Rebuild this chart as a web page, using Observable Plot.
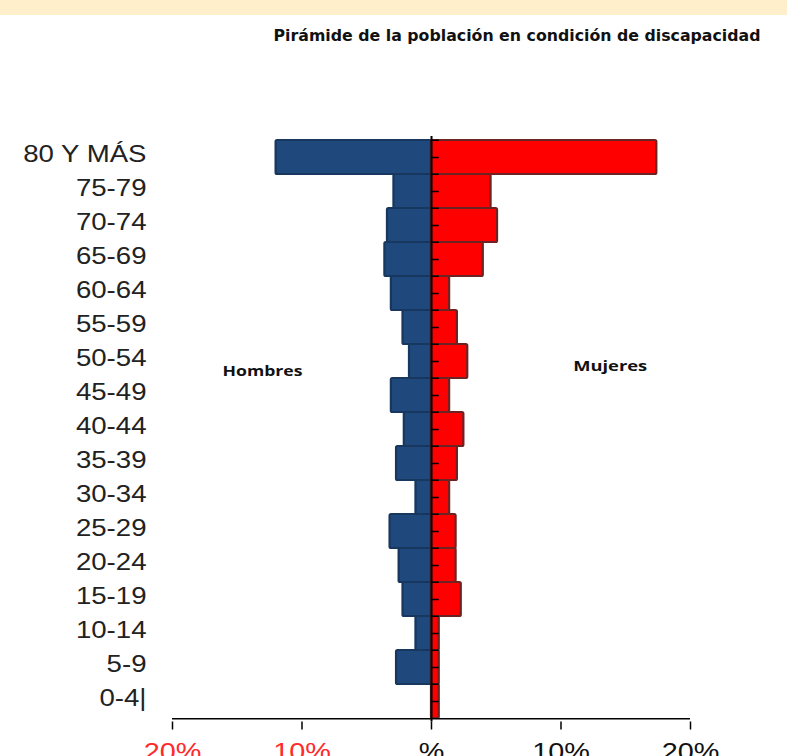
<!DOCTYPE html>
<html>
<head>
<meta charset="utf-8">
<script src="https://cdn.jsdelivr.net/npm/d3@7"></script>
<script src="https://cdn.jsdelivr.net/npm/@observablehq/plot@0.6"></script>
<style>
  html, body { margin: 0; padding: 0; background: #ffffff; }
  #wrap { position: relative; width: 787px; height: 756px; overflow: hidden; background: #fff; }
  #band { position: absolute; left: 0; top: 0; width: 787px; height: 15px; background: #FFF0CB; }
  #chart { position: absolute; left: 0; top: 0; }
</style>
</head>
<body>
<div id="wrap">
  <div id="band"></div>
  <div id="chart"></div>
</div>
<script>
// ---- data ----
const title = "Pirámide de la población en condición de discapacidad";
const ages = ["80 Y MÁS","75-79","70-74","65-69","60-64","55-59","50-54","45-49","40-44","35-39","30-34","25-29","20-24","15-19","10-14","5-9","0-4|"];
const hombres = [12.0, 2.9, 3.4, 3.6, 3.1, 2.2, 1.7, 3.1, 2.1, 2.7, 1.2, 3.2, 2.5, 2.2, 1.2, 2.7, 0.0];
const mujeres = [17.4, 4.6, 5.1, 4.0, 1.4, 2.0, 2.8, 1.4, 2.5, 2.0, 1.4, 1.9, 1.9, 2.3, 0.6, 0.6, 0.6];
const seriesNames = ["Hombres", "Mujeres"];
const xTickValues = [-20, -10, 0, 10, 20];
const xTickLabels = ["20%", "10%", "%", "10%", "20%"];

// ---- tables built from arrays ----
const menRows = ages.map((a, i) => ({age: a, value: -hombres[i]}));
const womenRows = ages.map((a, i) => ({age: a, value: mujeres[i]}));
const labelOf = new Map(xTickValues.map((v, i) => [v, xTickLabels[i]]));

// ---- layout ----
const W = 787, H = 756, mTop = 136, mBottom = 34.5, mLeft = 172, mRight = 97;
const step = (H - mTop - mBottom) / ages.length;
const stubLen = 0.6; // in % units
const labelSize = 23;

const plot = Plot.plot({
  width: W,
  height: H,
  marginTop: mTop,
  marginBottom: mBottom,
  marginLeft: mLeft,
  marginRight: mRight,
  style: {fontFamily: "Liberation Sans, Arial, sans-serif", background: "transparent", overflow: "visible"},
  x: {domain: [-20, 20], axis: null},
  y: {domain: ages, padding: 0, axis: null},
  marks: [
    Plot.barX(menRows, {x1: 0, x2: "value", y: "age", fill: "#1F487C", stroke: "#17375E", strokeWidth: 2.2, rx: 1.5}),
    Plot.barX(womenRows, {x1: 0, x2: "value", y: "age", fill: "#FF0000", stroke: "#6E2323", strokeWidth: 2.2, rx: 1.5}),
    Plot.ruleX([0], {stroke: "#000", strokeWidth: 2}),
    Plot.ruleY(ages, {y: d => d, x1: 0, x2: stubLen, stroke: "#000", strokeWidth: 1.5}),
    Plot.ruleY(ages, {y: d => d, x1: 0, x2: stubLen, stroke: "#000", strokeWidth: 1.5, dy: -step / 2}),
    Plot.ruleY([ages[ages.length - 1]], {y: d => d, x1: -20, x2: 20, stroke: "#000", strokeWidth: 1.5, dy: step / 2}),
    Plot.axisY({anchor: "left", tickSize: 0, tickPadding: 26, fontSize: labelSize, fill: "#222", dy: -3, label: null}),
    Plot.axisX(xTickValues.filter(v => v < 0), {anchor: "bottom", tickSize: 8, tickPadding: 12.5, fontSize: 24, stroke: "#000", strokeWidth: 1.5, fill: "#FF2A2A", tickFormat: v => labelOf.get(v), label: null}),
    Plot.axisX(xTickValues.filter(v => v >= 0), {anchor: "bottom", tickSize: 8, tickPadding: 12.5, fontSize: 24, stroke: "#000", strokeWidth: 1.5, fill: "#111", tickFormat: v => labelOf.get(v), label: null}),
    Plot.text([seriesNames[0]], {x: -13.05, y: () => ages[6], dy: 10, text: d => d, fontFamily: "Open Sans", fontWeight: 700, fontSize: 15, fill: "#111"}),
    Plot.text([seriesNames[1]], {x: 13.8, y: () => ages[6], dy: 5, text: d => d, fontFamily: "Open Sans", fontWeight: 700, fontSize: 15, fill: "#111"}),
    Plot.text([title], {frameAnchor: "top-right", dx: 70, dy: -100, textAnchor: "end", lineAnchor: "middle", fontFamily: "DejaVu Sans", fontWeight: "bold", fontSize: 15, fill: "#111", text: d => d})
  ]
});
document.getElementById("chart").appendChild(plot);

// horizontal stretch of texts (the reference's text is wider than tall)
const targetWidth = new Map([[title, 487], [seriesNames[0], 80], [seriesNames[1], 74]]);
const stretchSet = new Set([...ages, ...xTickLabels]);
plot.querySelectorAll("text").forEach(t => {
  const s = t.textContent;
  const L = t.getComputedTextLength();
  let target = null;
  if (targetWidth.has(s)) target = targetWidth.get(s);
  else if (stretchSet.has(s)) target = L * 1.2;
  if (target && L > 0) {
    t.setAttribute("textLength", target);
    t.setAttribute("lengthAdjust", "spacingAndGlyphs");
  }
});
</script>
</body>
</html>
